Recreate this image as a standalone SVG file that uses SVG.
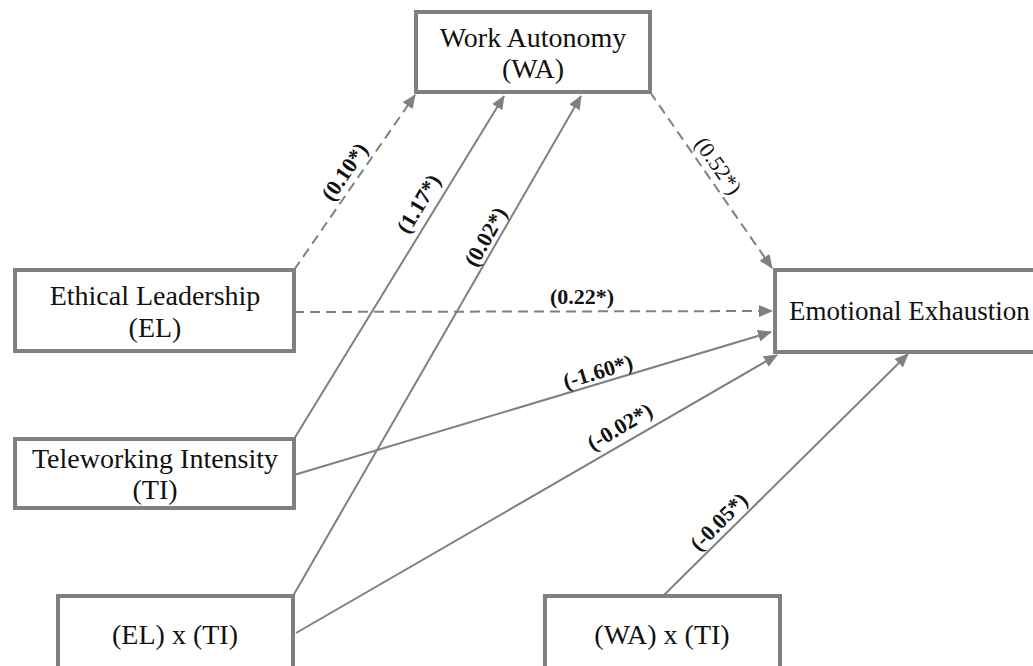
<svg xmlns="http://www.w3.org/2000/svg" width="1033" height="666" viewBox="0 0 1033 666">
<style>
.box{fill:#fff;stroke:#808080;stroke-width:4}
.nt{font-family:"Liberation Serif","Times New Roman",serif;font-size:28px;fill:#111;text-anchor:middle}
.ln{stroke:#808080;stroke-width:2;fill:none}
.dash{stroke-dasharray:10,6}
.lb{font-family:"Liberation Serif","Times New Roman",serif;font-size:22px;font-weight:bold;fill:#111;text-anchor:middle}
.lr{font-weight:normal}
</style>
<defs>
<marker id="ah" markerUnits="userSpaceOnUse" markerWidth="14" markerHeight="12" refX="13" refY="6" orient="auto">
<path d="M0,0 L14,6 L0,12 z" fill="#808080"/>
</marker>
</defs>
<rect width="1033" height="666" fill="#fff"/>
<g id="connectors">
<line class="ln dash" x1="294" y1="270" x2="415" y2="95" marker-end="url(#ah)"/>
<line class="ln" x1="294" y1="439" x2="504" y2="96" marker-end="url(#ah)"/>
<line class="ln" x1="293" y1="596" x2="581" y2="96" marker-end="url(#ah)"/>
<line class="ln dash" x1="650" y1="92" x2="772" y2="268" marker-end="url(#ah)"/>
<line class="ln dash" x1="294" y1="312" x2="772" y2="311" marker-end="url(#ah)"/>
<line class="ln" x1="294" y1="475" x2="771" y2="332" marker-end="url(#ah)"/>
<line class="ln" x1="296" y1="633" x2="777" y2="355" marker-end="url(#ah)"/>
<line class="ln" x1="663" y1="596" x2="908" y2="354" marker-end="url(#ah)"/>
<text class="lb" transform="translate(345,172) rotate(-55.5)" dy="7">(0.10*)</text>
<text class="lb" transform="translate(419,204) rotate(-58.8)" dy="7">(1.17*)</text>
<text class="lb" transform="translate(486,237) rotate(-60.3)" dy="7">(0.02*)</text>
<text class="lb lr" transform="translate(718,166) rotate(55)" dy="7">(0.52*)</text>
<text class="lb" transform="translate(582,297)" dy="7">(0.22*)</text>
<text class="lb" transform="translate(598,372) rotate(-16.9)" dy="7">(-1.60*)</text>
<text class="lb" transform="translate(620,427) rotate(-30.6)" dy="7">(-0.02*)</text>
<text class="lb" transform="translate(719,522) rotate(-45.4)" dy="7">(-0.05*)</text>
</g>
<g id="WA">
<rect class="box" x="416" y="12" width="234" height="80"/>
<text class="nt" x="533" y="47">Work Autonomy</text>
<text class="nt" x="533" y="78">(WA)</text>
</g>
<g id="EE">
<rect class="box" x="775" y="270" width="290" height="82"/>
<text class="nt" x="789" y="320" style="text-anchor:start;font-size:27px">Emotional Exhaustion</text>
</g>
<g id="EL">
<rect class="box" x="15" y="270" width="279" height="81"/>
<text class="nt" x="155" y="305">Ethical Leadership</text>
<text class="nt" x="155" y="337">(EL)</text>
</g>
<g id="TI">
<rect class="box" x="15" y="439" width="279" height="69"/>
<text class="nt" x="155" y="468">Teleworking Intensity</text>
<text class="nt" x="155" y="499">(TI)</text>
</g>
<g id="ELxTI">
<rect class="box" x="58" y="596" width="235" height="80"/>
<text class="nt" x="175" y="644">(EL) x (TI)</text>
</g>
<g id="WAxTI">
<rect class="box" x="545" y="596" width="235" height="80"/>
<text class="nt" x="662" y="644">(WA) x (TI)</text>
</g>
</svg>
